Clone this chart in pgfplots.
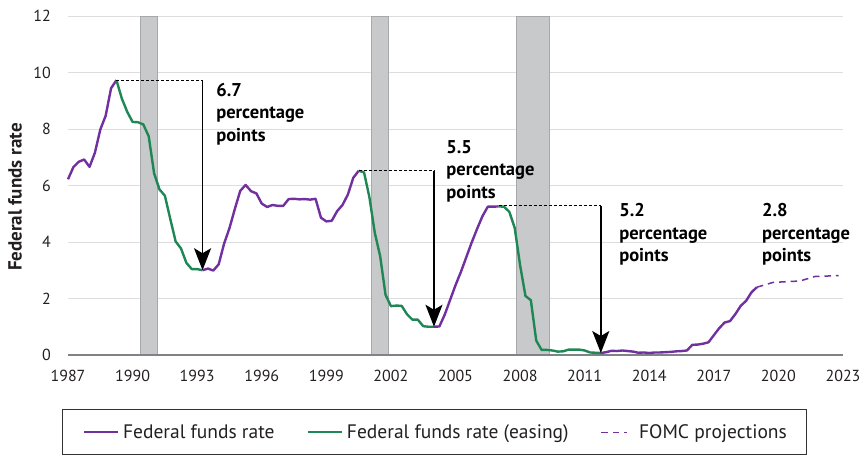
\documentclass[border=0pt]{standalone}
\usepackage{pgfplots}
\pgfplotsset{compat=1.18}
\usetikzlibrary{arrows.meta}
\usepackage{fontspec}
\setmainfont{PT Sans}

\definecolor{ffpurple}{RGB}{112,48,160}
\definecolor{ffgreen}{RGB}{30,135,85}
\definecolor{recgray}{RGB}{200,201,203}
\definecolor{recedge}{RGB}{166,168,171}
\definecolor{gridgray}{RGB}{221,221,222}
\definecolor{axisgray}{RGB}{128,130,133}
\definecolor{txt}{RGB}{35,31,32}

\pgfplotsset{
    long legend/.style={legend image code/.code={\draw[##1] (0pt,6pt) -- (34pt,6pt);}},
    short legend/.style={legend image code/.code={\draw[##1] (0pt,6pt) -- (26pt,6pt); \path (33pt,6pt);}},
}

\begin{document}
\begin{tikzpicture}
\begin{pgfinterruptboundingbox}
\begin{axis}[
    at={(0,0)}, anchor=south west,
    scale only axis,
    width=775pt, height=339pt,
    xmin=1987, xmax=2023,
    ymin=0, ymax=12,
    xtick={1987,1990,1993,1996,1999,2002,2005,2008,2011,2014,2017,2020,2023},
    ytick={0,2,4,6,8,10,12},
    major tick length=0pt,
    axis line style={draw=none},
    ymajorgrids,
    major grid style={gridgray, line width=1pt},
    /pgf/number format/1000 sep={},
    /pgf/number format/assume math mode=true,
    tick label style={font=\fontsize{16}{18}\selectfont, text=txt, inner sep=0pt},
    xticklabel style={anchor=north, yshift=-15pt},
    yticklabel style={anchor=east, xshift=-17pt},
    ylabel={Federal funds rate},
    every axis y label/.style={at={(axis description cs:-0.0684,0.466)}, rotate=90, anchor=center,
        font=\fontsize{19}{22}\selectfont\bfseries, text=txt},
    clip=false,
    legend columns=3,
    long legend,
    legend style={at={(axis description cs:-0.00735,-0.1593)}, anchor=north west,
        draw=black!80, line width=0.8pt, inner xsep=20pt, inner ysep=15pt,
        font=\fontsize{19.5}{21}\selectfont, text=txt,
        nodes={inner sep=0pt, anchor=base west},
        /tikz/every odd column/.append style={column sep=4pt},
        /tikz/every even column/.append style={column sep=32pt}},
]

% recessions
\addplot[fill=recgray, draw=recedge, line width=0.8pt, forget plot] coordinates {(1990.35,12) (1991.17,12)} \closedcycle;
\addplot[fill=recgray, draw=recedge, line width=0.8pt, forget plot] coordinates {(2001.07,12) (2001.88,12)} \closedcycle;
\addplot[fill=recgray, draw=recedge, line width=0.8pt, forget plot] coordinates {(2007.83,12) (2009.37,12)} \closedcycle;

\draw[axisgray, line width=1.5pt] (axis cs:1987,0) -- (axis cs:2023,0);

% federal funds rate, quarterly
\addplot[ffpurple, line width=2.4pt, line join=round] coordinates {
(1987.00,6.22) (1987.25,6.65) (1987.50,6.84) (1987.75,6.92) (1988.00,6.66) (1988.25,7.16)
(1988.50,7.98) (1988.75,8.47) (1989.00,9.44) (1989.25,9.73)
};
\addlegendentry{Federal funds rate}

\addplot[ffgreen, line width=2.4pt, line join=round] coordinates {
(1989.25,9.73) (1989.50,9.08) (1989.75,8.61) (1990.00,8.25) (1990.25,8.24) (1990.50,8.16)
(1990.75,7.74) (1991.00,6.43) (1991.25,5.86) (1991.50,5.64) (1991.75,4.82) (1992.00,4.02)
(1992.25,3.77) (1992.50,3.26) (1992.75,3.04) (1993.00,3.04) (1993.25,3.00)
};
\addlegendentry{Federal funds rate (easing)}

\addplot[ffpurple, dash pattern=on 6.5pt off 5pt, line width=1.5pt, short legend] coordinates {
(2019.00,2.40) (2019.75,2.57) (2021.00,2.62) (2021.70,2.78) (2022.80,2.81)
};
\addlegendentry{FOMC projections}

\addplot[ffpurple, line width=2.4pt, line join=round, forget plot] coordinates {
(1993.25,3.00) (1993.50,3.06) (1993.75,2.99) (1994.00,3.21) (1994.25,3.94) (1994.50,4.49)
(1994.75,5.17) (1995.00,5.81) (1995.25,6.02) (1995.50,5.80) (1995.75,5.72) (1996.00,5.36)
(1996.25,5.24) (1996.50,5.31) (1996.75,5.28) (1997.00,5.28) (1997.25,5.52) (1997.50,5.53)
(1997.75,5.51) (1998.00,5.52) (1998.25,5.50) (1998.50,5.53) (1998.75,4.86) (1999.00,4.73)
(1999.25,4.75) (1999.50,5.09) (1999.75,5.31) (2000.00,5.68) (2000.25,6.27) (2000.50,6.52)
};
\addplot[ffgreen, line width=2.4pt, line join=round, forget plot] coordinates {
(2000.50,6.52) (2000.75,6.47) (2001.00,5.59) (2001.25,4.33) (2001.50,3.50) (2001.75,2.13)
(2002.00,1.73) (2002.25,1.75) (2002.50,1.74) (2002.75,1.44) (2003.00,1.25) (2003.25,1.25)
(2003.50,1.02) (2003.75,1.00) (2004.00,1.00)
};
\addplot[ffpurple, line width=2.4pt, line join=round, forget plot] coordinates {
(2004.00,1.00) (2004.25,1.01) (2004.50,1.43) (2004.75,1.95) (2005.00,2.47) (2005.25,2.94)
(2005.50,3.46) (2005.75,3.98) (2006.00,4.46) (2006.25,4.91) (2006.50,5.25) (2006.75,5.25)
(2007.00,5.26)
};
\addplot[ffgreen, line width=2.4pt, line join=round, forget plot] coordinates {
(2007.00,5.26) (2007.25,5.25) (2007.50,5.07) (2007.75,4.50) (2008.00,3.18) (2008.25,2.09)
(2008.50,1.94) (2008.75,0.51) (2009.00,0.18) (2009.25,0.18) (2009.50,0.16) (2009.75,0.12)
(2010.00,0.13) (2010.25,0.19) (2010.50,0.19) (2010.75,0.19) (2011.00,0.16) (2011.25,0.09)
(2011.50,0.08) (2011.75,0.07)
};
\addplot[ffpurple, line width=2.4pt, line join=round, forget plot] coordinates {
(2011.75,0.07) (2012.00,0.10) (2012.25,0.15) (2012.50,0.14) (2012.75,0.16) (2013.00,0.14)
(2013.25,0.12) (2013.50,0.08) (2013.75,0.09) (2014.00,0.07) (2014.25,0.09) (2014.50,0.09)
(2014.75,0.10) (2015.00,0.11) (2015.25,0.13) (2015.50,0.14) (2015.75,0.16) (2016.00,0.36)
(2016.25,0.37) (2016.50,0.40) (2016.75,0.45) (2017.00,0.70) (2017.25,0.95) (2017.50,1.15)
(2017.75,1.20) (2018.00,1.45) (2018.25,1.74) (2018.50,1.92) (2018.75,2.22) (2019.00,2.40)
};

% easing annotations
\draw[black, line width=0.9pt, dash pattern=on 3pt off 2pt] (axis cs:1989.25,9.73) -- (axis cs:1993.25,9.73);
\draw[black, line width=1.8pt, -{Stealth[length=22pt, width=17pt, inset=5pt]}] (axis cs:1993.25,9.73) -- (axis cs:1993.25,3.0);
\draw[black, line width=0.9pt, dash pattern=on 3pt off 2pt] (axis cs:2000.5,6.52) -- (axis cs:2004.0,6.52);
\draw[black, line width=1.8pt, -{Stealth[length=22pt, width=17pt, inset=5pt]}] (axis cs:2004.0,6.52) -- (axis cs:2004.0,1.0);
\draw[black, line width=0.9pt, dash pattern=on 3pt off 2pt] (axis cs:2007.0,5.28) -- (axis cs:2011.75,5.28);
\draw[black, line width=1.8pt, -{Stealth[length=22pt, width=17pt, inset=5pt]}] (axis cs:2011.75,5.28) -- (axis cs:2011.75,0.07);

\tikzset{ann/.style={anchor=north west, align=left, inner sep=0pt, text=black,
    font=\fontsize{18.5}{22.5}\selectfont\bfseries}}
\node[ann] at (axis cs:1993.88,9.64) {6.7\\percentage\\points};
\node[ann] at (axis cs:2004.57,7.60) {5.5\\percentage\\points};
\node[ann] at (axis cs:2012.60,5.37) {5.2\\percentage\\points};
\node[ann] at (axis cs:2019.23,5.37) {2.8\\percentage\\points};
\end{axis}
\end{pgfinterruptboundingbox}
\path (-68pt,-104pt) rectangle (798pt,355pt);
\end{tikzpicture}
\end{document}
